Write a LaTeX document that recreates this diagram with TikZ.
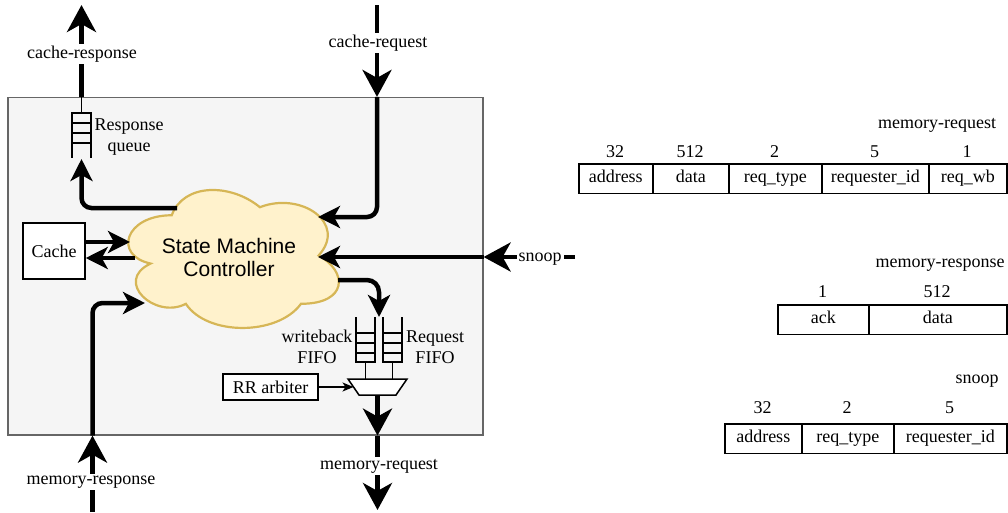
\documentclass[tikz,border=0pt]{standalone}
\usepackage{fontspec}
\setmainfont{Liberation Serif}
\newfontfamily\cloudfont{Liberation Sans}
\usetikzlibrary{arrows.meta}
\definecolor{boxfill}{HTML}{F5F5F5}
\definecolor{boxline}{HTML}{666666}
\definecolor{cloudfill}{HTML}{FFF2CC}
\definecolor{cloudline}{HTML}{D6B656}
\begin{document}
\begin{tikzpicture}[x=1pt,y=-1pt,
  every node/.style={font=\fontsize{18}{20.5}\selectfont, inner sep=1pt},
  thickline/.style={line width=4.5pt},
  outarrow/.style={thickline,-{Stealth[length=27pt,width=29pt,inset=8pt]}},
  inarrow/.style={thickline,-{Stealth[length=22pt,width=22pt,inset=6pt]}},
  thinline/.style={line width=1.5pt},
  lbl/.style={fill=white, inner sep=2pt},
  cell/.style={draw, line width=1.5pt, minimum height=29.5pt, inner sep=0pt, text height=12.5pt, text depth=4pt, anchor=north west},
  fifobox/.style={draw, thinline, minimum width=19pt, inner sep=0pt},
  plainbox/.style={draw, thinline, fill=white, inner sep=0pt}
]
\useasboundingbox (0,0) rectangle (1008,512);
\fill[white] (0,0) rectangle (1008,512);

% main block
\node[draw=boxline, fill=boxfill, line width=1.2pt, minimum width=475pt, minimum height=337.5pt, inner sep=0pt] (main) at (245.5,266.25) {};

% cloud
\draw[cloudline, fill=cloudfill, line width=2.2pt]
  (171.75,215.25) .. controls (124.75,215.25) and (113,255.5) .. (150.6,263.55)
  .. controls (113,281.26) and (155.3,319.9) .. (185.85,303.8)
  .. controls (207,336) and (277.5,336) .. (301,303.8)
  .. controls (348,303.8) and (348,271.6) .. (318.6,255.5)
  .. controls (348,223.3) and (301,191.1) .. (259.9,207.2)
  .. controls (230.5,183.05) and (183.5,183.05) .. (171.75,215.25) -- cycle;
\node[font={\cloudfont\fontsize{21}{23.5}\selectfont}, align=center] (smc) at (229,257.5) {State Machine\\Controller};

% cloud attach points
\coordinate (smc-rq) at (177,208);
\coordinate (smc-c1) at (130,242);
\coordinate (smc-c2) at (135,258);
\coordinate (smc-mr) at (145,303);
\coordinate (smc-crq) at (318,217);
\coordinate (smc-sn) at (318,257);
\coordinate (smc-f) at (338,280);

% response queue
\node[fifobox, minimum height=30pt] (rq) at (81.5,128) {};
\draw[thinline] (72,123)--(91,123) (72,133)--(91,133) (72,143)--(72,158) (91,143)--(91,158);
\draw[thinline] (rq.north) -- (rq.north |- main.north);
\node[align=center, font=\fontsize{18}{21}\selectfont, inner sep=0pt] (rql) at (129,137) {Response\\queue};
\coordinate (rqin) at (81.5,159);
\draw[inarrow, rounded corners=10pt] (smc-rq) -| (rqin);

% cache-response
\coordinate (crstop) at (81.5,5);
\draw[outarrow] (rq.north |- main.north) -- (crstop);
\node[lbl] (crsl) at (82,54) {cache-response};

% cache
\node[plainbox, minimum width=62pt, minimum height=56pt] (cache) at (54,251) {Cache};
\draw[inarrow] (cache.east |- smc-c1) -- (smc-c1);
\draw[inarrow] (smc-c2) -- (cache.east |- smc-c2);

% memory-response
\coordinate (mrbot) at (92.5,512);
\draw[outarrow] (mrbot) -- (mrbot |- main.south);
\node[lbl] (mrl) at (91,482) {memory-response};
\draw[inarrow, rounded corners=10pt] (mrbot |- main.south) |- (smc-mr);

% cache-request
\coordinate (crqtop) at (377,5);
\draw[outarrow] (crqtop) -- (crqtop |- main.north);
\node[lbl] (crql) at (378,43) {cache-request};
\draw[inarrow, rounded corners=10pt] (crqtop |- main.north) |- (smc-crq);

% snoop
\coordinate (snoopend) at (575,257);
\draw[outarrow] (snoopend) -- (snoopend -| main.east);
\node[lbl] (snl) at (540,259) {snoop};
\draw[inarrow] (snoopend -| main.east) -- (smc-sn);

% FIFOs
\node[fifobox, minimum height=29pt] (wb) at (365.5,347.5) {};
\node[fifobox, minimum height=29pt] (rf) at (392.5,347.5) {};
\draw[thinline] (356,343)--(375,343) (356,353)--(375,353) (356,333)--(356,317) (375,333)--(375,317);
\draw[thinline] (383,343)--(402,343) (383,353)--(402,353) (383,333)--(383,317) (402,333)--(402,317);
\node[align=center, font=\fontsize{18}{20.5}\selectfont, inner sep=0pt] (wbl) at (317,347) {writeback\\FIFO};
\node[align=center, font=\fontsize{18}{20.5}\selectfont, inner sep=0pt] (rfl) at (435,347) {Request\\FIFO};
\coordinate (fifoin) at (379,317);
\draw[inarrow, rounded corners=12pt] (smc-f) -| (fifoin);

% mux
\coordinate (muxtop) at (377.5,379);
\coordinate (muxbot) at (377.5,395);
\coordinate (muxleft) at (353.5,387);
\draw[thinline] (wb.south) -- (wb.south |- muxtop);
\draw[thinline] (rf.south) -- (rf.south |- muxtop);
\draw[thinline, fill=white] (348,379) -- (407,379) -- (396,395) -- (359,395) -- cycle;

% RR arbiter
\node[plainbox, minimum width=95pt, minimum height=26pt] (rr) at (270.5,387) {RR arbiter};
\draw[thinline, -{Stealth[length=11pt,width=9pt,inset=3pt]}] (rr.east) -- (muxleft);

% memory-request
\draw[outarrow] (muxbot) -- (muxbot |- main.south);
\coordinate (mreqend) at (377.5,510);
\draw[outarrow] (muxbot |- main.south) -- (mreqend);
\node[lbl] (mreql) at (379,466) {memory-request};

% memory-request format
\node (tq) at (937,125) {memory-request};
\node[cell, minimum width=74pt] (q1) at (578,163) {address};
\node[cell, minimum width=76pt] (q2) at (652,163) {data};
\node[cell, minimum width=93pt] (q3) at (728,163) {req\_type};
\node[cell, minimum width=107pt] (q4) at (821,163) {requester\_id};
\node[cell, minimum width=78pt] (q5) at (928,163) {req\_wb};
\node (q1n) at (615,152) {32};
\node (q2n) at (690,152) {512};
\node (q3n) at (774.5,152) {2};
\node (q4n) at (874.5,152) {5};
\node (q5n) at (967,152) {1};

% memory-response format
\node (tr) at (940,265) {memory-response};
\node[cell, minimum width=91pt] (r1) at (777,304) {ack};
\node[cell, minimum width=138pt] (r2) at (868,304) {data};
\node (r1n) at (822.5,292) {1};
\node (r2n) at (937,292) {512};

% snoop format
\node (ts) at (977,381) {snoop};
\node[cell, minimum width=77pt] (s1) at (724,423) {address};
\node[cell, minimum width=92pt] (s2) at (801,423) {req\_type};
\node[cell, minimum width=113pt] (s3) at (893,423) {requester\_id};
\node (s1n) at (762.5,408) {32};
\node (s2n) at (847,408) {2};
\node (s3n) at (949.5,408) {5};
\end{tikzpicture}
\end{document}
